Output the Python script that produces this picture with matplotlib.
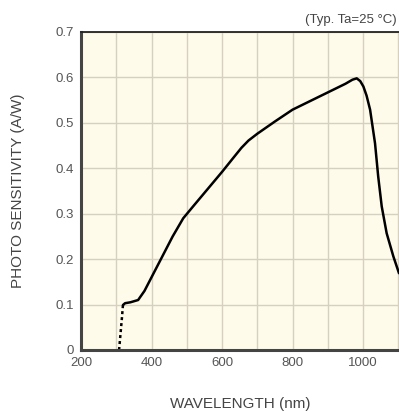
import matplotlib
matplotlib.use("Agg")
import matplotlib.pyplot as plt
from matplotlib.ticker import MultipleLocator

plt.rcParams['font.family'] = ['Liberation Sans', 'DejaVu Sans']

# Data
dash_wl = [308, 312, 316, 319]
dash_ps = [0.0, 0.035, 0.07, 0.099]
wl = [319, 325, 340, 362, 380, 400, 430, 460, 490, 520, 560, 600, 630, 655, 675, 700,
      750, 800, 850, 900, 950, 970, 982, 992, 1001, 1010, 1020, 1034, 1043, 1053,
      1067, 1086, 1102]
ps = [0.099, 0.103, 0.105, 0.110, 0.130, 0.160, 0.205, 0.250, 0.290, 0.318, 0.355,
      0.392, 0.421, 0.445, 0.461, 0.476, 0.503, 0.529, 0.548, 0.567, 0.586, 0.595,
      0.598, 0.592, 0.580, 0.560, 0.529, 0.455, 0.382, 0.316, 0.257, 0.206, 0.169]
xticks = [200, 400, 600, 800, 1000]
yticks = [0, 0.1, 0.2, 0.3, 0.4, 0.5, 0.6, 0.7]
ytick_labels = ['0', '0.1', '0.2', '0.3', '0.4', '0.5', '0.6', '0.7']

fig = plt.figure(figsize=(3.99, 4.11), dpi=100)
ax = fig.add_axes([81/399, 1 - 350/411, (399 - 81)/399, (350 - 32)/411])
ax.set_facecolor('#fffbea')

ax.plot(dash_wl, dash_ps, color='black', lw=1.8, linestyle=(0, (1.2, 1.2)))
ax.plot(wl, ps, color='black', lw=1.8, solid_capstyle='round', solid_joinstyle='round')

ax.set_xlim(200, 1102)
ax.set_ylim(0, 0.7)
ax.xaxis.set_minor_locator(MultipleLocator(100))
ax.yaxis.set_minor_locator(MultipleLocator(0.1))
ax.set_xticks(xticks)
ax.set_yticks(yticks)
ax.set_yticklabels(ytick_labels)
ax.grid(True, which='both', color='#d5d0c0', lw=1.0)
ax.set_axisbelow(True)
ax.tick_params(which='both', length=0, labelsize=9.5, colors='#555555', pad=5)
ax.tick_params(axis='x', pad=5)

for s in ['left', 'bottom']:
    ax.spines[s].set_color('#444444')
    ax.spines[s].set_linewidth(2.2)
ax.spines['top'].set_color('#222222')
ax.spines['top'].set_linewidth(1.3)
ax.spines['right'].set_visible(False)

ax.set_xlabel('WAVELENGTH (nm)', fontsize=11, color='#444444', labelpad=20)
ax.set_ylabel('PHOTO SENSITIVITY (A/W)', fontsize=11, color='#444444', labelpad=22)

fig.text(397/399, 1 - 20/411, '(Typ. Ta=25 °C)', ha='right', va='center',
         fontsize=9.5, color='#444444')

fig.savefig('out.png', dpi=100)
